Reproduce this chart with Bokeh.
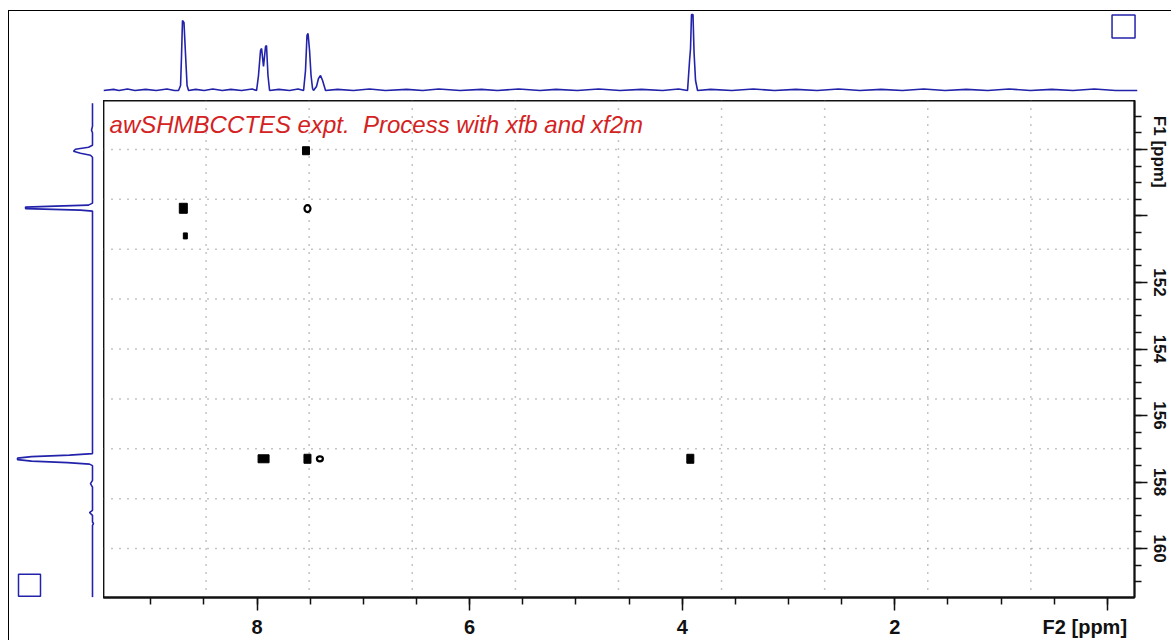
import math
from bokeh.plotting import figure
from bokeh.layouts import column, row
from bokeh.models import Range1d, FixedTicker, Span, Label
from bokeh.embed import file_html
from bokeh.resources import INLINE

NBSP = "\u00a0"

# ---------------- data ----------------
# F2 (1H) projection: ppm and relative intensity
top_ppm = [9.445, 9.35, 9.30, 9.22, 9.15, 9.05, 8.95, 8.85, 8.78, 8.741, 8.722, 8.713, 8.704,
           8.690, 8.675, 8.661, 8.647, 8.58, 8.50, 8.42, 8.33, 8.25, 8.15, 8.05, 8.009, 7.991,
           7.972, 7.962, 7.944, 7.925, 7.916, 7.902, 7.887, 7.80, 7.70, 7.62, 7.568, 7.550,
           7.536, 7.526, 7.512, 7.498, 7.484, 7.475, 7.447, 7.428, 7.409, 7.390, 7.362, 7.25,
           7.10, 6.95, 6.80, 6.60, 6.45, 6.30, 6.10, 5.90, 5.75, 5.55, 5.35, 5.20, 5.00, 4.80,
           4.60, 4.40, 4.20, 4.05, 3.966, 3.947, 3.938, 3.929, 3.915, 3.905, 3.891, 3.872,
           3.75, 3.55, 3.35, 3.15, 2.95, 2.75, 2.55, 2.35, 2.15, 1.95, 1.75, 1.55, 1.35, 1.15,
           0.95, 0.75, 0.55, 0.35, 0.15, -0.05, -0.255]
top_int = [0.0, 0.015, 0.0, 0.02, 0.0, 0.015, 0.0, 0.02, 0.0, 0.0, 0.066, 0.46, 0.921,
           0.895, 0.46, 0.066, 0.0, 0.015, 0.0, 0.02, 0.0, 0.015, 0.0, 0.02, 0.0, 0.197,
           0.526, 0.553, 0.316, 0.579, 0.592, 0.197, 0.0, 0.015, 0.0, 0.02, 0.0, 0.263,
           0.724, 0.75, 0.526, 0.197, 0.026, 0.0, 0.053, 0.158, 0.197, 0.132, 0.0, 0.015,
           0.0, 0.02, 0.0, 0.015, 0.0, 0.02, 0.0, 0.015, 0.0, 0.02, 0.0, 0.015, 0.0, 0.02,
           0.0, 0.015, 0.0, 0.02, 0.0, 0.395, 0.553, 1.0, 1.0, 0.5, 0.132, 0.0,
           0.015, 0.0, 0.02, 0.0, 0.015, 0.0, 0.02, 0.0, 0.015, 0.0, 0.02, 0.0, 0.015, 0.0,
           0.02, 0.0, 0.015, 0.0, 0.02, 0.0, 0.0]

# F1 (13C) projection: ppm and relative intensity
left_ppm = [146.615, 147.30, 147.425, 147.50, 147.875, 147.935, 147.995, 148.055, 148.115,
            148.175, 148.235, 149.615, 149.675, 149.705, 149.735, 149.78, 149.825, 149.855,
            157.145, 157.19, 157.236, 157.281, 157.326, 157.371, 157.416, 157.461, 157.506,
            157.95, 158.046, 158.15, 158.85, 158.916, 159.0, 159.2, 159.246, 159.3, 161.466]
left_int = [0.0, 0.0, 0.013, 0.0, 0.0, 0.053, 0.227, 0.253, 0.16, 0.027, 0.0, 0.0, 0.053,
            0.493, 0.893, 0.893, 0.16, 0.0, 0.0, 0.307, 0.813, 1.0, 1.0, 0.813, 0.333, 0.04,
            0.0, 0.0, 0.027, 0.0, 0.0, 0.04, 0.0, 0.0, -0.013, 0.0, 0.0]

# HMBC cross peaks
cross_f2 = [8.694, 7.540, 7.526, 8.675, 7.939, 7.526, 7.409, 3.924]
cross_f1 = [149.77, 148.04, 149.78, 150.60, 157.30, 157.30, 157.30, 157.30]
cross_ring = [False, False, True, False, False, False, True, False]

# axes
f2_major = [8, 6, 4, 2, 0]
f2_labels = {8: "8", 6: "6", 4: "4", 2: "2", 0: "F2 [ppm]"}
f1_major = [148, 150, 152, 154, 156, 158, 160]
f1_labels = {148: "F1 [ppm]", 150: "", 152: "152", 154: "154", 156: "156", 158: "158", 160: "160"}
title_text = "awSHMBCCTES expt.  Process with xfb and xf2m"

# ---------------- styles / layout ----------------
BLUE = "#2222aa"
F2_RANGE = (9.445, -0.255)
F1_RANGE = (161.47, 146.53)
cross_w = [8, 7, 8, 4, 11, 7, 8, 7]
cross_h = [10, 8, 9, 6, 8, 9, 7, 9]
grid_f2 = [8.48, 7.51, 6.54, 5.57, 4.60, 3.63, 2.66, 1.69, 0.72]
grid_f1 = [148.0, 149.5, 151.0, 152.5, 154.0, 155.5, 157.0, 158.5, 160.0]

f2_minor = [9.0 - 0.5 * i for i in range(19)]
f1_minor = [146.5 + 0.5 * i for i in range(31)]

# axis-name labels sit off-centre of their tick in the original: pad with no-break spaces
f2_labels_disp = {k: (v + NBSP * 8 if "ppm" in v else v) for k, v in f2_labels.items()}
f1_labels_disp = {k: (NBSP + v if "ppm" in v else v) for k, v in f1_labels.items()}
title_disp = title_text.replace("  ", NBSP + " ")

# top projection
top = figure(width=1162, height=89, x_range=Range1d(*F2_RANGE),
             y_range=Range1d(-0.1316, 1.0395), output_backend="svg",
             toolbar_location=None, x_axis_location=None, y_axis_location=None,
             min_border_left=94, min_border_right=34, min_border_top=0, min_border_bottom=0)
top.grid.visible = False
top.outline_line_color = None
top.line(top_ppm, top_int, line_color=BLUE, line_width=1.6)
top.rect(x=[-0.124], y=[0.842], width=23, height=23, width_units="screen",
         height_units="screen", fill_color=None, line_color=BLUE, line_width=1.5)

# left projection
left = figure(width=94, height=540, x_range=Range1d(1.1067, -0.1467),
              y_range=Range1d(*F1_RANGE), output_backend="svg", toolbar_location=None,
              x_axis_location=None, y_axis_location=None,
              min_border_left=0, min_border_right=0, min_border_top=0, min_border_bottom=42)
left.grid.visible = False
left.outline_line_color = None
left.line(left_int, left_ppm, line_color=BLUE, line_width=1.6)
left.rect(x=[0.84], y=[161.1], width=22, height=22, width_units="screen",
          height_units="screen", fill_color=None, line_color=BLUE, line_width=1.5)

# main 2D plot
p = figure(width=1068, height=540, x_range=Range1d(*F2_RANGE), y_range=Range1d(*F1_RANGE),
           output_backend="svg", toolbar_location=None, x_axis_location="below",
           y_axis_location="right", min_border_left=0, min_border_right=34,
           min_border_top=0, min_border_bottom=42)
p.xgrid.visible = False
p.ygrid.visible = False
p.outline_line_color = "#111111"
p.outline_line_width = 1.8

for ax, ticks, minor, labels, fs in ((p.xaxis[0], f2_major, f2_minor, f2_labels_disp, "20px"),
                                     (p.yaxis[0], f1_major, f1_minor, f1_labels_disp, "17px")):
    ax.ticker = FixedTicker(ticks=ticks, minor_ticks=minor)
    ax.major_label_overrides = labels
    ax.axis_line_color = "#111111"
    ax.axis_line_width = 1.8
    ax.major_tick_line_color = "#111111"
    ax.minor_tick_line_color = "#111111"
    ax.major_tick_line_width = 1.5
    ax.minor_tick_line_width = 1.5
    ax.major_tick_in = 0
    ax.major_tick_out = 13
    ax.minor_tick_in = 0
    ax.minor_tick_out = 7
    ax.major_label_text_font = "Liberation Sans"
    ax.major_label_text_font_style = "bold"
    ax.major_label_text_font_size = fs
    ax.major_label_text_color = "#111111"
    ax.major_label_standoff = 5
p.yaxis[0].major_label_orientation = "vertical"
p.yaxis[0].major_label_standoff = 2

for g in grid_f2:
    p.add_layout(Span(location=g, dimension="height", line_color="#8a8a8a",
                      line_dash="1 7", line_width=1.5, level="underlay"))
for g in grid_f1:
    p.add_layout(Span(location=g, dimension="width", line_color="#8a8a8a",
                      line_dash="1 7", line_width=1.5, level="underlay"))

solid_x = [x for x, r in zip(cross_f2, cross_ring) if not r]
solid_y = [y for y, r in zip(cross_f1, cross_ring) if not r]
solid_w = [w for w, r in zip(cross_w, cross_ring) if not r]
solid_h = [h for h, r in zip(cross_h, cross_ring) if not r]
ring_x = [x for x, r in zip(cross_f2, cross_ring) if r]
ring_y = [y for y, r in zip(cross_f1, cross_ring) if r]
ring_w = [w - 2 for w, r in zip(cross_w, cross_ring) if r]
ring_h = [h - 2 for h, r in zip(cross_h, cross_ring) if r]
p.rect(x=solid_x, y=solid_y, width=solid_w, height=solid_h, width_units="screen",
       height_units="screen", fill_color="black", line_color="black", line_width=1)
p.ellipse(x=ring_x, y=ring_y, width=ring_w, height=ring_h, width_units="screen",
          height_units="screen", fill_color=None, line_color="black", line_width=2.2)

p.add_layout(Label(x=9.388, y=147.25, text=title_disp, text_color="#d42222",
                   text_font="Liberation Sans", text_font_style="italic",
                   text_font_size="24px", text_baseline="middle", text_align="left"))

layout = column(top, row(left, p, spacing=0), spacing=0, margin=(10, 0, 0, 8),
                styles={"border-top": "1px solid black", "border-left": "1px solid black"})

open("out.html", "w").write(file_html(layout, INLINE))
